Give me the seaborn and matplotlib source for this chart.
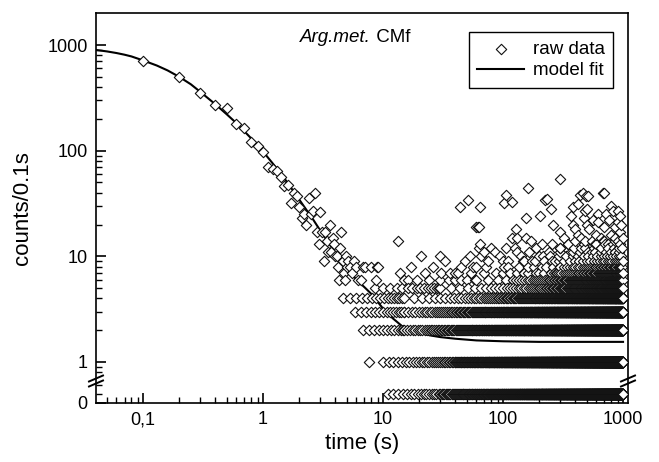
import numpy as np
import pandas as pd
import matplotlib
matplotlib.use("Agg")
import matplotlib.pyplot as plt
import matplotlib.ticker as mticker
import seaborn as sns

# ---------------- data ----------------
# early, well separated raw data points: time (s) and counts per 0.1 s
early_t = [0.1, 0.2, 0.3, 0.4, 0.5, 0.6, 0.7, 0.8, 0.9, 1.0,
           1.1, 1.2, 1.3, 1.4, 1.5, 1.6, 1.7, 1.8, 1.9, 2.0,
           2.1, 2.2, 2.3, 2.4, 2.5, 2.6, 2.7, 2.8, 2.9, 3.0,
           3.1, 3.2, 3.3, 3.4, 3.5, 3.6, 3.7, 3.8, 3.9, 4.0,
           4.1, 4.2, 4.3, 4.4, 4.5, 4.6, 4.7, 4.8, 4.9, 5.0,
           5.1, 5.3, 5.5, 5.7, 6.0, 6.2, 6.5, 6.8, 7.1, 7.7,
           7.9, 8.7, 8.9, 9.1]
early_c = [710, 500, 350, 272, 254, 178, 164, 121, 111, 97,
           70, 67, 64, 56, 46, 47, 32, 40, 37, 29,
           23, 25, 20, 36, 25, 27, 40, 17, 13, 26,
           17, 9, 17, 14, 11, 20, 11, 15, 13, 10,
           10, 8, 6, 12, 17, 9, 7, 6, 10, 8,
           9, 8, 7, 9, 8, 6, 6, 8, 8, 1,
           8, 6, 8, 8]

# scattered high-count outliers in the background region
outlier_t = [13.3, 20.7, 29.8, 13.8, 19.2, 22.4, 30.6, 35.5, 39.8, 43.8,
             51, 48, 53, 59, 54, 58, 16, 17, 24, 26, 33, 36, 42, 45, 50, 56,
             300, 162, 106, 101, 119, 64, 224, 251, 203, 155, 62, 262, 300.5,
             129, 119.5, 129.5, 155.5, 170, 211, 257, 300.8, 384, 440, 490,
             680, 790, 900, 370, 480, 470, 620, 720, 380, 500, 620.5, 900.5,
             106.5, 129.8, 86, 64.5, 65, 72, 100, 147, 102, 180,
             62.5, 70, 75, 80, 88, 95, 110, 115, 125, 135, 140, 150, 165,
             175, 190, 200, 215, 230, 240, 270, 280,
             233, 460, 510, 700, 420, 500.5, 820, 63,
             320, 350, 380.5, 420.5, 450, 480.5, 520, 550, 580, 600, 650,
             680.5, 700.5, 750, 800, 850, 900.8, 950, 980, 990, 400, 560,
             760, 860, 940, 960]
outlier_c = [14, 10, 10, 7, 6, 7, 7, 6, 6, 29,
             34, 9, 10, 19, 7, 6, 6, 8, 6, 8, 9, 7, 7, 8, 6, 8,
             54, 44, 38, 32, 33, 29, 34, 28, 24, 23, 19, 20, 17,
             18, 15, 15, 15, 14, 13, 13, 12, 29, 38, 37,
             40, 30, 27, 24, 27, 23, 25, 25, 20, 20, 21, 21,
             12, 11, 11, 13, 10, 8, 9, 9, 8, 8,
             12, 11, 9, 12, 7, 10, 9, 7, 12, 8, 10, 7, 11,
             9, 12, 7, 10, 8, 11, 9, 7,
             35, 40, 37, 40, 31, 28, 27, 19,
             15, 13, 11, 16, 12, 14, 18, 11, 13, 16, 12,
             14, 19, 13, 16, 11, 14, 17, 12, 15, 18, 22,
             22, 19, 24, 20]

# dense integer-count bands of the background: level, time span, sample stride (s)
band_level  = [0, 0, 1, 1, 2, 2, 3, 3, 4, 4, 5, 5, 6, 6, 7, 7, 8, 8, 9, 10, 11, 12, 13, 14, 15]
band_start  = [11, 30, 10, 40, 6.8, 15, 5.8, 15, 4.6, 15, 8.5, 30, 15, 120, 40, 250, 60, 300,
               150, 200, 300, 300, 350, 400, 450]
band_end    = [30, 1000, 40, 1000, 15, 1000, 15, 1000, 15, 1000, 30, 1000, 120, 1000, 250, 1000,
               300, 1000, 1000, 1000, 1000, 1000, 1000, 1000, 1000]
band_stride = [1.2, 0.8, 1.1, 0.7, 0.8, 0.9, 0.7, 1.2, 0.7, 3.0, 1.5, 7.0, 15, 8, 30, 14, 50, 20,
               35, 45, 70, 90, 120, 150, 200]

# model fit curve
fit_t = [0.04, 0.05, 0.06, 0.07, 0.08, 0.1, 0.13, 0.16, 0.2, 0.25, 0.3, 0.4, 0.5, 0.6,
         0.7, 0.8, 1.0, 1.2, 1.5, 1.8, 2.2, 2.6, 3.0, 3.5, 4.0, 5.0, 6.0, 7.0, 8.0,
         10, 12, 15, 20, 25, 30, 40, 60, 100, 200, 400, 1000]
fit_c = [900, 870, 840, 810, 780, 715, 640, 575, 500, 425, 360, 275, 220, 182,
         152, 130, 98, 76, 55, 41, 29.5, 22.5, 17.5, 13.5, 10.8, 7.7, 6.0, 5.1, 4.4,
         3.2, 2.6, 2.1, 1.88, 1.78, 1.72, 1.66, 1.6, 1.57, 1.55, 1.55, 1.55]

x_ticks = [0.1, 1, 10, 100, 1000]
x_ticklabels = ["0,1", "1", "10", "100", "1000"]
y_ticklabels = ["0", "1", "10", "100", "1000"]

# ---------------- build the raw-data table ----------------
ZERO_POS = 0.5      # position where zero counts are drawn (below the axis break)
Y_BOTTOM = 0.409

ts, cs = list(early_t) + list(outlier_t), list(early_c) + list(outlier_c)
for lev, a, b, st in zip(band_level, band_start, band_end, band_stride):
    tt = np.arange(a, b, st)
    ts.extend(tt.tolist())
    cs.extend([lev] * len(tt))
raw = pd.DataFrame({"time": ts, "counts": cs}).sort_values("time", kind="stable")
raw["y"] = np.where(raw["counts"] == 0, ZERO_POS, raw["counts"])
fit = pd.DataFrame({"time": fit_t, "counts": fit_c})

# ---------------- plot ----------------
plt.rcParams["font.family"] = ["Liberation Sans", "DejaVu Sans"]
plt.rcParams["axes.linewidth"] = 1.2

fig = plt.figure(figsize=(6.59, 4.62), dpi=100)
ax = fig.add_axes([96 / 659, 1 - 403 / 462, 532 / 659, 390 / 462])
ax.set_xscale("log")
ax.set_yscale("log")

sns.lineplot(data=fit, x="time", y="counts", ax=ax, color="black", linewidth=1.5,
             estimator=None, sort=False, zorder=2, label="model fit")
sns.scatterplot(data=raw, x="time", y="y", ax=ax, marker="D", s=28, color="white",
                edgecolor="#111111", linewidth=0.8, zorder=3, label="raw data")

ax.set_xlim(0.0405, 1100)
ax.set_ylim(Y_BOTTOM, 2010)

ax.xaxis.set_major_locator(mticker.FixedLocator(x_ticks))
ax.xaxis.set_major_formatter(mticker.FixedFormatter(x_ticklabels))
ax.xaxis.set_minor_locator(mticker.LogLocator(base=10, subs=np.arange(2, 10)))
ax.xaxis.set_minor_formatter(mticker.NullFormatter())

ax.yaxis.set_major_locator(mticker.FixedLocator([0.41, 1, 10, 100, 1000]))
ax.yaxis.set_major_formatter(mticker.FixedFormatter(y_ticklabels))
ymin = [0.5, 0.6, 0.8, 0.9] + [k * 10 ** d for d in range(0, 3) for k in range(2, 10)]
ax.yaxis.set_minor_locator(mticker.FixedLocator(ymin))
ax.yaxis.set_minor_formatter(mticker.NullFormatter())

ax.tick_params(which="both", direction="in", top=False, right=False,
               labelsize=13, color="black")
ax.tick_params(which="major", length=7, width=1.2, pad=6)
ax.tick_params(which="minor", length=4, width=1.0)

ax.set_xlabel("time (s)", fontsize=16, labelpad=3)
ax.set_ylabel("counts/0.1s", fontsize=16)
ax.yaxis.set_label_coords(-0.118, 0.5)

# title text: italic species + regular suffix
t1 = ax.text(0.383, 0.938, "Arg.met.", transform=ax.transAxes, fontsize=13.5,
             style="italic", ha="left", va="center")
ax.annotate(" CMf", xy=(1, 0), xycoords=t1, fontsize=13.5, ha="left", va="bottom")

# legend
line_h = ax.lines[0]
scat_h = ax.collections[0]
leg = ax.legend([scat_h, line_h], ["raw data", "model fit"], loc="upper right",
                bbox_to_anchor=(0.972, 0.951), borderaxespad=0, frameon=True,
                fancybox=False, edgecolor="black", fontsize=13.5, handlelength=2.5,
                handletextpad=0.45, labelspacing=0.25, borderpad=0.45,
                scatterpoints=1, framealpha=1)
leg.get_frame().set_linewidth(1.0)

# axis-break marks on both vertical spines
brk_y = (403 - 381) / 390
dx, dy = 7 / 532, 3 / 390
for xs in (0.0, 1.0):
    for off in (-2.5 / 390, 2.5 / 390):
        ax.plot([xs - dx, xs + dx], [brk_y + off - dy, brk_y + off + dy],
                transform=ax.transAxes, color="black", lw=1.4, clip_on=False, zorder=5)

fig.savefig("out.png", dpi=100)
